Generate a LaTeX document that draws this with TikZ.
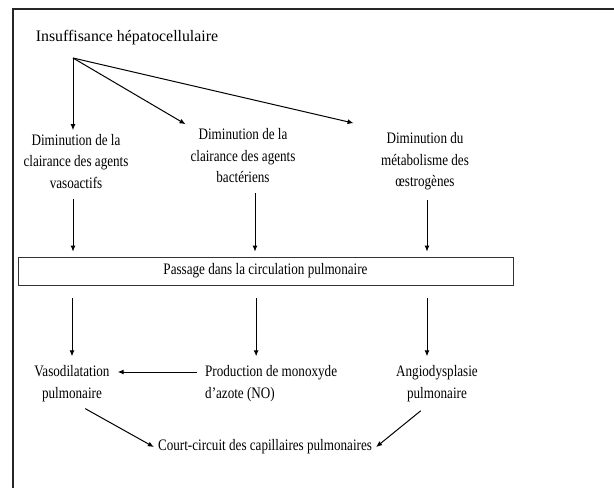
\documentclass[tikz,border=0pt]{standalone}
\usepackage{fontspec}
\setmainfont{Liberation Serif}[FakeStretch=0.82]
\newfontfamily\titlefont{Liberation Serif}[FakeStretch=0.99]
\usetikzlibrary{arrows.meta,positioning}
\tikzset{%
  link/.style={-{Latex[length=6pt,width=5pt]},line width=1pt},
  label block/.style={align=center, inner sep=4pt, font=\fontsize{16}{21.5}\selectfont},
  band/.style={draw=black!80, line width=0.8pt, minimum width=495pt, minimum height=28pt, inner sep=0pt, font=\fontsize{16}{18}\selectfont},
  frame/.style={line width=1.6pt, black!85}
}

\begin{document}
\begin{tikzpicture}[x=1pt,y=-1pt]

 \useasboundingbox (0,0) rectangle (614,488);
 \draw[frame] (614,9) -- (13,9) -- (13,488);

 \node[label block, font=\titlefont\fontsize{16}{21.5}\selectfont] (insuf) at (127,38) {Insuffisance hépatocellulaire};
 \coordinate (fan) at (73,58);

 \node[label block] (dimva) at (76,161.5) {Diminution de la\\clairance des agents\\vasoactifs};
 \node[label block] (dimba) at (243,156) {Diminution de la\\clairance des agents\\bactériens};
 \node[label block] (dimes) at (425,161.5) {Diminution du\\métabolisme des\\œstrogènes};

 \node[band] (pass) at (265.5,271) {Passage dans la circulation pulmonaire};

 \node[label block] (vaso) at (72,383.5) {Vasodilatation\\pulmonaire};
 \node[label block, align=left, anchor=west] (prod) at (201,383.5) {Production de monoxyde\\d’azote (NO)};
 \node[label block] (angio) at (437,383.5) {Angiodysplasie\\pulmonaire};

 \node[label block] (court) at (265,447) {Court-circuit des capillaires pulmonaires};

 % fan-out from the title
 \draw[link] (fan) -- (fan |- dimva.north);
 \draw[link, shorten >=1pt] (fan) -- (dimba.north west);
 \draw[link, shorten >=24pt] (fan) -- (dimes.north west);

 % into the pulmonary circulation
 \draw[link, shorten <=6pt, shorten >=5pt] ([xshift=-3pt]dimva.south) -- ([xshift=-3pt]dimva.south |- pass.north);
 \draw[link, shorten <=6pt, shorten >=5pt] ([xshift=12pt]dimba.south) -- ([xshift=12pt]dimba.south |- pass.north);
 \draw[link, shorten <=6pt, shorten >=5pt] ([xshift=2pt]dimes.south) -- ([xshift=2pt]dimes.south |- pass.north);

 % out of it
 \draw[link, shorten <=13pt, shorten >=5pt] (pass.south -| vaso.north) -- (vaso.north);
 \draw[link, shorten <=13pt, shorten >=5pt] ([xshift=-15pt]prod.north |- pass.south) -- ([xshift=-15pt]prod.north);
 \draw[link, shorten <=13pt, shorten >=5pt] ([xshift=-10pt]angio.north |- pass.south) -- ([xshift=-10pt]angio.north);

 \draw[link, shorten <=4pt, shorten >=4pt] ([yshift=11.5pt]prod.west) -- ([yshift=11.5pt]prod.west -| vaso.east);

 \draw[link, shorten <=6pt] ([xshift=8pt]vaso.south) -- (court.west);
 \draw[link, shorten <=8pt] ([xshift=-10pt]angio.south) -- (court.east);

\end{tikzpicture}
\end{document}
